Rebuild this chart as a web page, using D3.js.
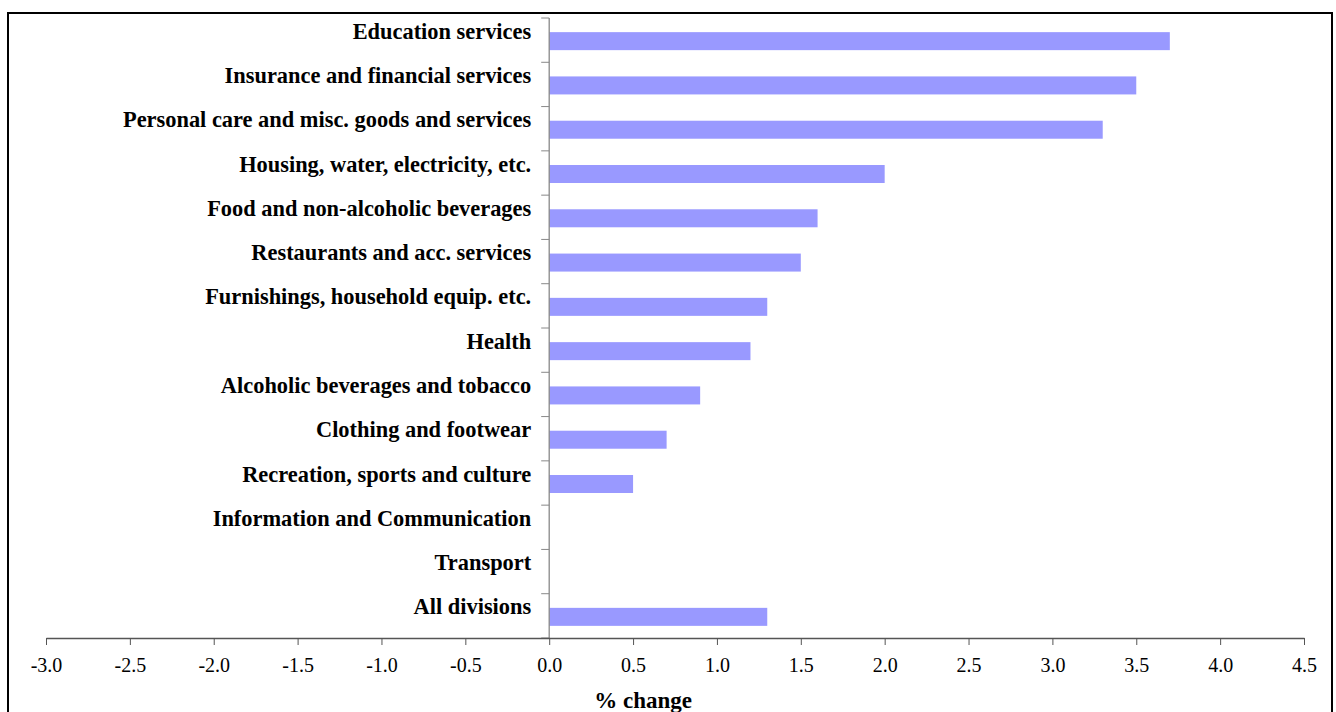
<!DOCTYPE html>
<html><head><meta charset="utf-8">
<script src="https://cdn.jsdelivr.net/npm/d3@7"></script>
<style>body{margin:0;background:#fff;}svg{display:block;}</style>
</head><body>
<script>
const categories = ["Education services","Insurance and financial services","Personal care and misc. goods and services","Housing, water, electricity, etc.","Food and non-alcoholic beverages","Restaurants and acc. services","Furnishings, household equip. etc.","Health","Alcoholic beverages and tobacco","Clothing and footwear","Recreation, sports  and culture","Information and Communication","Transport","All divisions"];
const values = [3.7,3.5,3.3,2.0,1.6,1.5,1.3,1.2,0.9,0.7,0.5,0,0,1.3];
const xTicks = [-3.0,-2.5,-2.0,-1.5,-1.0,-0.5,0.0,0.5,1.0,1.5,2.0,2.5,3.0,3.5,4.0,4.5];
const xTitle = "% change";

const W=1336,H=712;
const FONT="'Liberation Serif','Times New Roman',serif";
const svg=d3.select("body").append("svg").attr("width",W).attr("height",H);
svg.append("rect").attr("x",8).attr("y",13).attr("width",1324).attr("height",720)
  .attr("fill","none").attr("stroke","#000").attr("stroke-width",2);

const x=d3.scaleLinear().domain([-3,4.5]).range([46,1304]);
const y=d3.scaleBand().domain(categories).range([18,638]).paddingInner(0).paddingOuter(0);
const bh=18;

svg.append("g").selectAll("rect").data(values).join("rect")
  .attr("x",d=>x(Math.min(0,d)))
  .attr("y",(d,i)=>y(categories[i])+y.bandwidth()/2-bh/2+1)
  .attr("width",d=>Math.abs(x(d)-x(0)))
  .attr("height",bh)
  .attr("fill","#9999ff");

// category axis at zero
const g0=svg.append("g");
g0.append("line").attr("x1",x(0)).attr("x2",x(0)).attr("y1",18).attr("y2",638).attr("stroke","#888").attr("stroke-width",1.3);
const bounds=categories.map(c=>y(c)).concat([638]);
g0.selectAll("line.t").data(bounds).join("line").attr("class","t")
  .attr("x1",x(0)-8).attr("x2",x(0)).attr("y1",d=>d).attr("y2",d=>d)
  .attr("stroke","#888").attr("stroke-width",1);
g0.selectAll("text").data(categories).join("text")
  .attr("x",x(0)-18).attr("y",c=>y(c)+y.bandwidth()/2-1.5)
  .attr("text-anchor","end")
  .attr("font-family",FONT)
  .attr("font-weight","bold").attr("font-size",22.4).attr("fill","#000")
  .text(c=>c);

// value axis
const xa=svg.append("g").attr("transform","translate(0,638)")
  .call(d3.axisBottom(x).tickValues(xTicks).tickFormat(d=>d.toFixed(1)).tickSize(7).tickSizeOuter(0));
xa.select(".domain").attr("stroke","#555").attr("stroke-width",1.3);
xa.selectAll(".tick line").attr("stroke","#555");
xa.selectAll(".tick text").attr("y",34).attr("dy",0).attr("font-family",FONT).attr("font-size",20).attr("fill","#000");

svg.append("text").attr("x",x(0.56)).attr("y",708).attr("text-anchor","middle")
  .attr("font-family",FONT).attr("font-weight","bold").attr("font-size",23)
  .text(xTitle);
</script>
</body></html>
